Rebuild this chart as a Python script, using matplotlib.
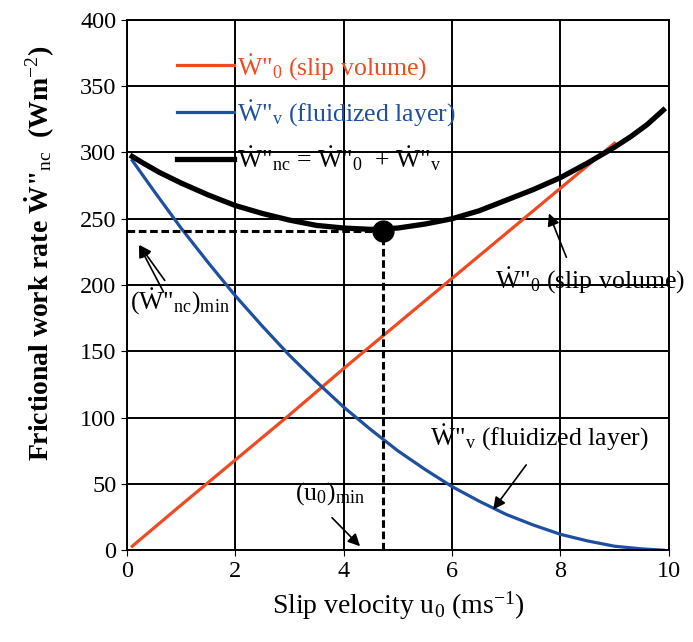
import numpy as np
import matplotlib.pyplot as plt

plt.rcParams['font.family'] = ['Liberation Serif', 'DejaVu Serif']
plt.rcParams['mathtext.fontset'] = 'custom'
plt.rcParams['mathtext.rm'] = 'Liberation Serif'
plt.rcParams['mathtext.it'] = 'Liberation Serif:italic'
plt.rcParams['mathtext.bf'] = 'Liberation Serif:bold'

# slip volume (red)
u_slip = [0.1, 1, 2, 3, 4, 5, 6, 7, 8, 9]
w_slip = [3, 34, 68, 102, 137, 171, 205, 239, 273, 307]

# fluidized layer (blue)
u_fl = [0.1, 0.5, 1, 1.5, 2, 2.5, 3, 3.5, 4, 4.5, 5, 5.5, 6, 6.5, 7, 7.5, 8, 8.5, 9, 9.5, 9.9]
w_fl = [294, 271, 243, 217, 192, 169, 147, 127, 108, 91, 75, 61, 48, 37, 27, 19, 12, 7, 3, 1, 0]

# total (black)
u_tot = [0.1, 0.3, 0.6, 1, 1.5, 2, 2.5, 3, 3.5, 4, 4.5, 5, 5.5, 6, 6.5, 7, 7.5, 8, 8.5, 9, 9.3, 9.6, 9.9]
w_tot = [297, 292, 285, 277, 268, 260, 254, 249, 245, 243, 242, 243, 246, 250, 256, 264, 272, 281, 292, 304, 312, 321, 332]

u_min = 4.73
w_min = 241

red = '#EE4B22'
blue = '#1F4FA0'

fig = plt.figure(figsize=(6.93, 6.42), dpi=100)
ax = fig.add_axes([0.183, 0.143, 0.782, 0.826])

lr, = ax.plot(u_slip, w_slip, color=red, lw=2.3)
lb, = ax.plot(u_fl, w_fl, color=blue, lw=2.3)
lk, = ax.plot(u_tot, w_tot, color='black', lw=3.8, solid_joinstyle='round')

ax.plot([0, u_min], [w_min, w_min], 'k--', lw=2.2, dashes=(2.5, 1.2))
ax.plot([u_min, u_min], [0, w_min], 'k--', lw=2.2, dashes=(2.5, 1.2))
ax.plot(u_min, w_min, 'ko', ms=15)

ax.set_xlim(0, 10)
ax.set_ylim(0, 400)
ax.set_xticks(range(0, 11, 2))
ax.set_yticks(range(0, 401, 50))
ax.grid(True, color='black', lw=1.4)
ax.tick_params(labelsize=17.5, direction='out', length=4, color='black')
for s in ax.spines.values():
    s.set_linewidth(1.4)

ax.set_xlabel('Slip velocity u$_0$ (ms$^{-1}$)', fontsize=20, labelpad=6)
ax.set_ylabel('Frictional work rate Ẇ"$_\\mathrm{nc}$  (Wm$^{-2}$)', fontsize=20,
              fontweight='bold')
ax.yaxis.set_label_coords(-0.13, 0.56)

leg = ax.legend([lr, lb, lk],
                ['Ẇ"$_0$ (slip volume)', 'Ẇ"$_\\mathrm{v}$ (fluidized layer)',
                 'Ẇ"$_\\mathrm{nc}$ = Ẇ"$_0$  + Ẇ"$_\\mathrm{v}$'],
                loc='upper left', bbox_to_anchor=(0.05, 0.985), frameon=False,
                fontsize=18.5, handlelength=2.2, handletextpad=0.15, labelspacing=0.6)
for txt, c in zip(leg.get_texts(), [red, blue, 'black']):
    txt.set_color(c)

arr = dict(arrowstyle='-|>', color='black', lw=1.2, mutation_scale=18)
ax.annotate('(Ẇ"$_\\mathrm{nc}$)$_\\mathrm{min}$', xy=(0.2, 232), xytext=(0.05, 182),
            fontsize=18.5, arrowprops=arr)
ax.annotate('', xy=(0.2, 232), xytext=(0.7, 193), arrowprops=arr)
ax.annotate('Ẇ"$_0$ (slip volume)', xy=(7.77, 256), xytext=(6.8, 198), fontsize=18.5)
ax.annotate('', xy=(7.77, 256), xytext=(8.13, 219), arrowprops=arr)
ax.annotate('Ẇ"$_\\mathrm{v}$ (fluidized layer)', xy=(6.73, 29), xytext=(5.6, 80), fontsize=18.5)
ax.annotate('', xy=(6.73, 29), xytext=(7.4, 66), arrowprops=arr)
ax.annotate('(u$_0$)$_\\mathrm{min}$', xy=(4.34, 1.5), xytext=(3.1, 38), fontsize=18.5)
ax.annotate('', xy=(4.34, 1.5), xytext=(3.75, 26), arrowprops=arr)

fig.savefig('out.png', dpi=100)
